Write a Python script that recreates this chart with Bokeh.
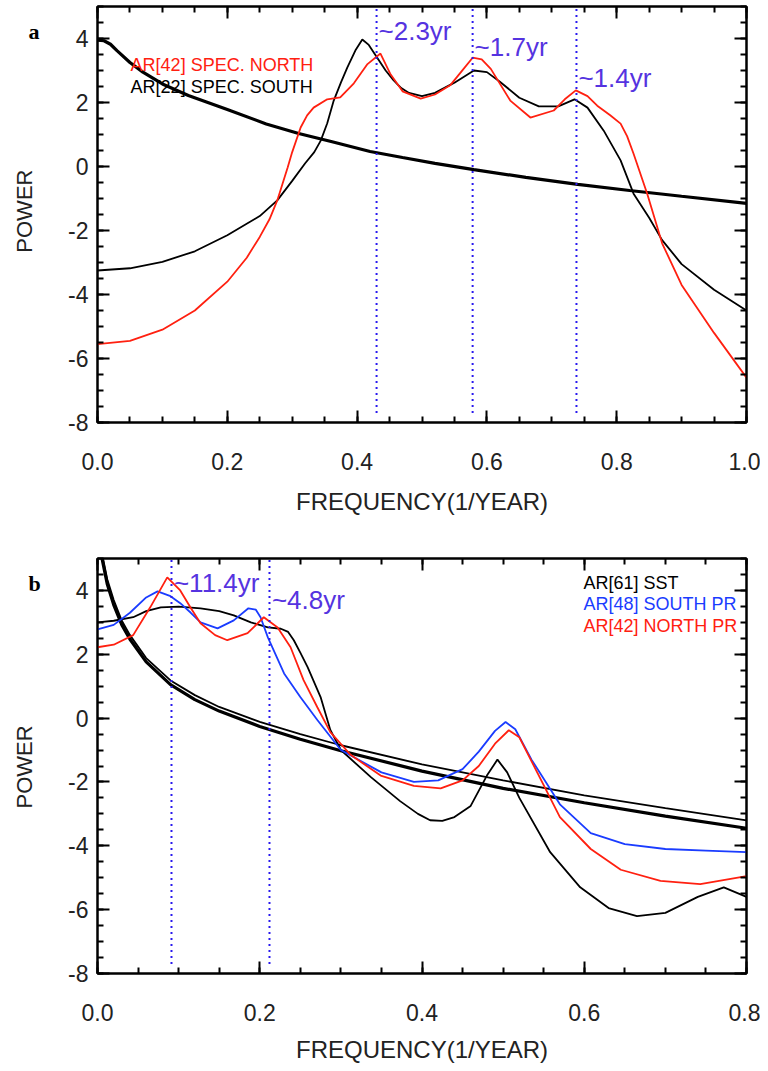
import math
from bokeh.plotting import figure
from bokeh.models import Range1d, LinearAxis, FixedTicker, Label, PrintfTickFormatter
from bokeh.layouts import column, row
from bokeh.embed import file_html
from bokeh.resources import INLINE

# ---------------- data: panel a ----------------
freq_a_bg = [0.0, 0.01, 0.02, 0.03, 0.05, 0.07, 0.10, 0.14, 0.20, 0.26, 0.31, 0.36, 0.42, 0.47, 0.52, 0.58, 0.66, 0.74, 0.82, 0.90, 1.00]
bg_a = [3.95, 3.93, 3.82, 3.62, 3.25, 2.95, 2.58, 2.22, 1.78, 1.33, 1.03, 0.78, 0.47, 0.28, 0.10, -0.10, -0.34, -0.56, -0.75, -0.93, -1.15]

freq_a_south = [0.0, 0.05, 0.10, 0.15, 0.20, 0.25, 0.277, 0.30, 0.32, 0.334, 0.344, 0.354, 0.364, 0.375, 0.385,
                0.398, 0.408, 0.418, 0.431, 0.444, 0.456, 0.468, 0.48, 0.50, 0.52, 0.55, 0.58, 0.60, 0.62,
                0.65, 0.68, 0.71, 0.735, 0.755, 0.78, 0.806, 0.826, 0.85, 0.87, 0.90, 0.95, 1.00]
south_a = [-3.25, -3.18, -2.98, -2.65, -2.15, -1.55, -1.06, -0.45, 0.10, 0.45, 0.81, 1.35, 2.06, 2.62, 3.10,
           3.65, 3.97, 3.80, 3.40, 3.00, 2.70, 2.45, 2.30, 2.20, 2.30, 2.62, 3.00, 2.95, 2.65,
           2.15, 1.88, 1.88, 2.10, 1.84, 1.12, 0.19, -0.85, -1.60, -2.30, -3.05, -3.85, -4.50]

freq_a_north = [0.0, 0.05, 0.10, 0.15, 0.20, 0.23, 0.25, 0.265, 0.277, 0.285, 0.293, 0.30, 0.313, 0.323, 0.333,
                0.354, 0.374, 0.395, 0.416, 0.436, 0.451, 0.47, 0.498, 0.52, 0.544, 0.56, 0.578, 0.592, 0.606,
                0.636, 0.667, 0.703, 0.72, 0.737, 0.755, 0.77, 0.79, 0.806, 0.816, 0.826, 0.847, 0.87, 0.90,
                0.95, 1.00]
north_a = [-5.55, -5.45, -5.10, -4.50, -3.60, -2.85, -2.20, -1.65, -1.06, -0.55, -0.03, 0.45, 1.22, 1.60, 1.84,
           2.10, 2.16, 2.60, 3.20, 3.53, 2.90, 2.35, 2.12, 2.25, 2.55, 2.95, 3.40, 3.35, 3.05,
           2.06, 1.53, 1.75, 2.10, 2.38, 2.20, 1.90, 1.60, 1.34, 0.95, 0.40, -0.85, -2.40, -3.70,
           -5.20, -6.60]

peaks_a = [0.43, 0.578, 0.738]
peak_labels_a = ["~2.3yr", "~1.7yr", "~1.4yr"]
peak_label_y_a = [4.25, 3.75, 2.78]
legend_a = ["AR[42] SPEC. NORTH", "AR[22] SPEC. SOUTH"]
x_ticks_a = [0.0, 0.2, 0.4, 0.6, 0.8, 1.0]

# ---------------- data: panel b ----------------
freq_b_bg = [0.0, 0.006, 0.012, 0.02, 0.03, 0.04, 0.06, 0.09, 0.12, 0.15, 0.20, 0.25, 0.30, 0.40, 0.50, 0.60, 0.70, 0.80]
bg_b_upper = [6.2, 5.1, 4.35, 3.7, 3.05, 2.6, 1.88, 1.18, 0.72, 0.35, -0.12, -0.50, -0.85, -1.45, -1.95, -2.42, -2.82, -3.20]
bg_b_lower = [6.0, 4.95, 4.2, 3.55, 2.92, 2.47, 1.76, 1.05, 0.58, 0.22, -0.26, -0.66, -1.02, -1.66, -2.20, -2.65, -3.07, -3.45]

freq_b_sst = [0.0, 0.02, 0.044, 0.06, 0.078, 0.10, 0.127, 0.15, 0.168, 0.189, 0.21, 0.226, 0.235, 0.242, 0.25,
              0.259, 0.275, 0.287, 0.30, 0.337, 0.373, 0.395, 0.41, 0.425, 0.44, 0.46, 0.48, 0.493, 0.505,
              0.52, 0.558, 0.595, 0.63, 0.665, 0.70, 0.74, 0.772, 0.80]
sst_b = [3.0, 3.05, 3.16, 3.35, 3.47, 3.49, 3.44, 3.35, 3.22, 3.0, 2.84, 2.8, 2.7, 2.44, 2.05,
         1.6, 0.66, -0.37, -1.0, -1.85, -2.6, -3.0, -3.2, -3.22, -3.1, -2.75, -1.8, -1.3, -1.7,
         -2.5, -4.2, -5.3, -5.95, -6.2, -6.1, -5.6, -5.3, -5.6]

freq_b_south = [0.0, 0.02, 0.04, 0.06, 0.074, 0.09, 0.102, 0.115, 0.127, 0.148, 0.168, 0.186, 0.195, 0.201,
                0.21, 0.23, 0.25, 0.271, 0.30, 0.35, 0.39, 0.42, 0.45, 0.47, 0.49, 0.503, 0.515, 0.535,
                0.57, 0.608, 0.65, 0.70, 0.75, 0.80]
south_b = [2.78, 2.92, 3.3, 3.78, 3.97, 3.82, 3.6, 3.3, 3.0, 2.81, 3.06, 3.44, 3.4, 3.16,
           2.53, 1.4, 0.66, -0.06, -1.0, -1.7, -2.0, -1.95, -1.6, -1.05, -0.4, -0.12, -0.35, -1.3,
           -2.7, -3.6, -3.95, -4.1, -4.15, -4.2]

freq_b_north = [0.0, 0.02, 0.044, 0.065, 0.086, 0.102, 0.115, 0.127, 0.145, 0.16, 0.185, 0.205, 0.222, 0.238,
                0.254, 0.271, 0.287, 0.312, 0.349, 0.39, 0.423, 0.45, 0.47, 0.49, 0.507, 0.52, 0.534, 0.57,
                0.608, 0.645, 0.694, 0.743, 0.80]
north_b = [2.22, 2.3, 2.6, 3.47, 4.41, 4.0, 3.45, 2.97, 2.6, 2.44, 2.66, 3.16, 2.84, 2.22,
           1.19, 0.34, -0.44, -1.15, -1.8, -2.12, -2.2, -1.95, -1.5, -0.8, -0.38, -0.6, -1.3, -3.1,
           -4.1, -4.75, -5.1, -5.2, -4.95]

peaks_b = [0.0912, 0.212]
peak_labels_b = ["~11.4yr", "~4.8yr"]
peak_label_y_b = [4.22, 3.69]
legend_b = ["AR[61] SST", "AR[48] SOUTH PR", "AR[42] NORTH PR"]
x_ticks_b = [0.0, 0.2, 0.4, 0.6, 0.8]

y_ticks = [-8, -6, -4, -2, 0, 2, 4]
y_minor = [-8 + 0.5 * i for i in range(27)]

RED = "#ff2010"
BLUE = "#1a3cff"
VIOLET = "#5533e0"
DOT = "#2a1aee"
FONT = "Liberation Sans"
TXT = "#222222"

H_A = 532
H_B = 539


def style_ticks(ax):
    ax.major_tick_in = 12
    ax.major_tick_out = 0
    ax.minor_tick_in = 6
    ax.minor_tick_out = 0
    ax.axis_line_width = 2
    ax.major_tick_line_width = 2
    ax.minor_tick_line_width = 2
    ax.axis_line_color = "black"
    ax.major_tick_line_color = "black"
    ax.minor_tick_line_color = "black"


def make_fig(xmax, height, btop, bbottom, xticks, xminor, label_standoff):
    p = figure(width=710, height=height, x_range=Range1d(0, xmax), y_range=Range1d(-8, 5),
               output_backend="svg", toolbar_location=None,
               min_border_left=47, min_border_right=14, min_border_top=btop,
               min_border_bottom=bbottom)
    p.xgrid.visible = False
    p.ygrid.visible = False
    p.outline_line_color = "black"
    p.outline_line_width = 2
    p.background_fill_color = "white"
    p.border_fill_color = "white"
    xb = p.below[0]
    yl = p.left[0]
    xb.ticker = FixedTicker(ticks=xticks, minor_ticks=xminor)
    yl.ticker = FixedTicker(ticks=y_ticks, minor_ticks=y_minor)
    xb.formatter = PrintfTickFormatter(format="%.1f")
    yl.formatter = PrintfTickFormatter(format="%d")
    xb.axis_label = "FREQUENCY(1/YEAR)"
    top = LinearAxis(ticker=FixedTicker(ticks=xticks, minor_ticks=xminor),
                     major_label_text_font_size="1px", major_label_text_color=None,
                     major_label_standoff=0)
    right = LinearAxis(ticker=FixedTicker(ticks=y_ticks, minor_ticks=y_minor),
                       major_label_text_font_size="1px", major_label_text_color=None,
                       major_label_standoff=0)
    p.add_layout(top, "above")
    p.add_layout(right, "right")
    for ax in [xb, yl, top, right]:
        style_ticks(ax)
    for ax in [xb, yl]:
        ax.major_label_text_font = FONT
        ax.major_label_text_font_size = "23px"
        ax.major_label_text_color = TXT
        ax.axis_label_text_font = FONT
        ax.axis_label_text_font_style = "normal"
        ax.axis_label_text_color = TXT
    xb.major_label_standoff = 30
    xb.axis_label_standoff = label_standoff
    xb.axis_label_text_font_size = "24px"
    yl.major_label_standoff = 9
    return p


def side_fig(height, letter, letter_y, power_y):
    s = figure(width=50, height=height, x_range=Range1d(0, 1), y_range=Range1d(0, 1),
               output_backend="svg", toolbar_location=None, x_axis_type=None, y_axis_type=None,
               min_border=0)
    s.xgrid.visible = False
    s.ygrid.visible = False
    s.outline_line_color = None
    s.add_layout(Label(x=0.56, y=letter_y, text=letter, text_font="Liberation Serif",
                       text_font_style="bold", text_font_size="22px", text_color="black",
                       text_align="left", text_baseline="middle"))
    s.add_layout(Label(x=0.48, y=power_y, text="POWER", text_font=FONT, text_font_size="22px",
                       text_color=TXT, angle=math.pi / 2, text_align="left",
                       text_baseline="middle"))
    return s


def add_text(p, x, y, text, color, size):
    p.add_layout(Label(x=x, y=y, text=text, text_color=color, text_font=FONT,
                       text_font_size=size, text_align="left", text_baseline="middle"))


# ---------------- panel a ----------------
pa = make_fig(1.0, H_A, 6, 110, x_ticks_a, [0.05 * i for i in range(21)], 15)
pa.line(freq_a_bg, bg_a, line_color="black", line_width=3.2)
pa.line(freq_a_south, south_a, line_color="black", line_width=1.8)
pa.line(freq_a_north, north_a, line_color=RED, line_width=1.8)
pa.segment(x0=peaks_a, y0=[-7.7] * len(peaks_a), x1=peaks_a, y1=[5] * len(peaks_a),
           line_color=DOT, line_width=2, line_dash="2 4")
for xv, t, yv in zip(peaks_a, peak_labels_a, peak_label_y_a):
    add_text(pa, xv + 0.003, yv, t, VIOLET, "26px")
add_text(pa, 0.051, 3.17, legend_a[0], RED, "18px")
add_text(pa, 0.051, 2.50, legend_a[1], "black", "18px")
sa = side_fig(H_A, "a", 0.942, 0.526)

# ---------------- panel b ----------------
pb = make_fig(0.8, H_B, 26, 98, x_ticks_b, [0.05 * i for i in range(17)], 12)
pb.line(freq_b_bg, bg_b_upper, line_color="black", line_width=1.8)
pb.line(freq_b_bg, bg_b_lower, line_color="black", line_width=3.2)
pb.line(freq_b_sst, sst_b, line_color="black", line_width=1.8)
pb.line(freq_b_south, south_b, line_color=BLUE, line_width=1.8)
pb.line(freq_b_north, north_b, line_color=RED, line_width=1.8)
pb.segment(x0=peaks_b, y0=[-7.7] * len(peaks_b), x1=peaks_b, y1=[5] * len(peaks_b),
           line_color=DOT, line_width=2, line_dash="2 4")
for xv, t, yv in zip(peaks_b, peak_labels_b, peak_label_y_b):
    add_text(pb, xv + 0.003, yv, t, VIOLET, "26px")
add_text(pb, 0.599, 4.22, legend_b[0], "black", "18px")
add_text(pb, 0.599, 3.56, legend_b[1], BLUE, "18px")
add_text(pb, 0.599, 2.90, legend_b[2], RED, "18px")
sb = side_fig(H_B, "b", 0.905, 0.488)

layout = row(column(sa, sb), column(pa, pb))
open("out.html", "w").write(file_html(layout, INLINE))
